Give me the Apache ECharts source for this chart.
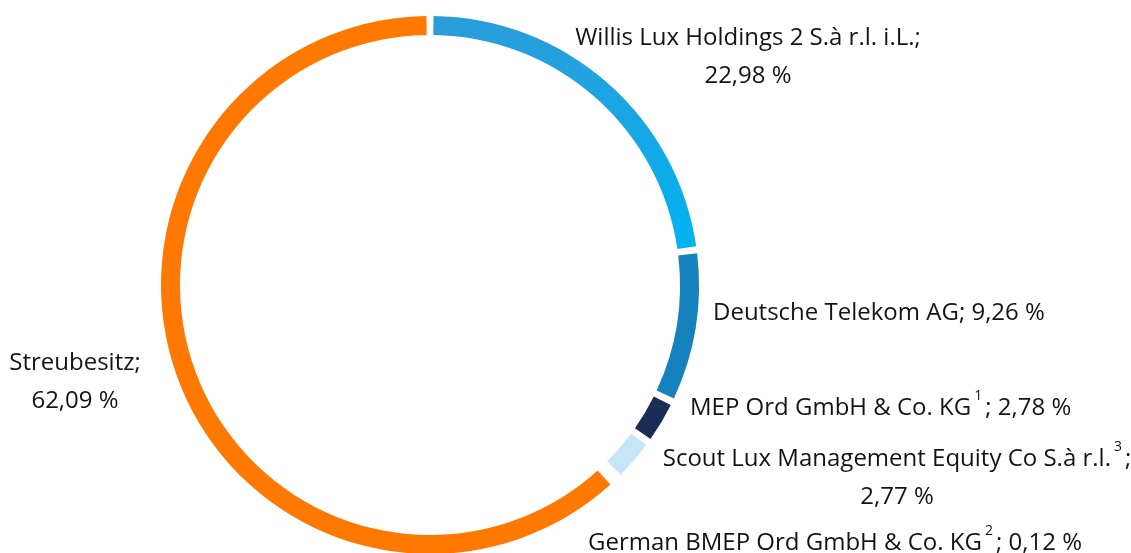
<!DOCTYPE html>
<html>
<head>
<meta charset="utf-8">
<script src="https://cdn.jsdelivr.net/npm/echarts@6/dist/echarts.min.js"></script>
<style>
  html, body { margin: 0; padding: 0; background: #fff; }
  #main { width: 1131px; height: 553px; }
</style>
</head>
<body>
<div id="main"></div>
<script>
  // Aktionärsstruktur (Anteile in %)
  var names = [
    'Willis Lux Holdings 2 S.à r.l. i.L.',
    'Deutsche Telekom AG',
    'MEP Ord GmbH & Co. KG',
    'Scout Lux Management Equity Co S.à r.l.',
    'German BMEP Ord GmbH & Co. KG',
    'Streubesitz'
  ];
  var shares = [22.98, 9.26, 2.78, 2.77, 0.12, 62.09];
  var footnotes = ['', '', '1', '3', '2', ''];
  var colors = [
    { type: 'linear', x: 0, y: 0, x2: 0, y2: 1,
      colorStops: [{ offset: 0, color: '#2b9dd9' }, { offset: 1, color: '#00b3f0' }] },
    '#1581bd', '#1b2d56', '#c6e6f8', '#c6e6f8', '#ff7800'
  ];

  // Beschriftungen: [x, y, Ausrichtung]
  var labelSpots = [
    [748, 57, 'center'],
    [713, 313, 'left'],
    [690, 408, 'left'],
    [897, 478, 'center'],
    [588, 543, 'left'],
    [75, 382, 'center']
  ];

  function fmt(v) {
    return v.toFixed(2).replace('.', ',') + ' %';
  }

  function labelText(i) {
    var n = names[i], v = fmt(shares[i]), f = footnotes[i];
    var sup = f ? '{sup|' + f + '}' : '';
    if (i === 0 || i === 5) return '{t|' + n + ';}\n{t|' + v + '}';
    if (i === 3) return '{t|' + n + '}' + sup + '{t|;}\n{t|' + v + '}';
    return '{t|' + n + '}' + sup + '{t|; ' + v + '}';
  }

  var myChart = echarts.init(document.getElementById('main'));
  var option = {
    animation: false,
    series: [{
      type: 'pie',
      center: [430, 285],
      radius: [250, 269],
      startAngle: 90,
      clockwise: true,
      padAngle: 1.5,
      avoidLabelOverlap: false,
      labelLine: { show: false },
      label: {
        show: true,
        position: 'outside',
        formatter: function (p) { return labelText(p.dataIndex); },
        rich: {
          t: { fontFamily: 'Open Sans', fontSize: 24, color: '#141414', lineHeight: 38 },
          sup: { fontFamily: 'Open Sans', fontSize: 14, color: '#141414', verticalAlign: 'top', lineHeight: 12, padding: [0, 3, 0, 3] }
        }
      },
      labelLayout: function (p) {
        var s = labelSpots[p.dataIndex];
        return { x: s[0], y: s[1], align: s[2], verticalAlign: 'middle' };
      },
      emphasis: { disabled: true },
      data: names.map(function (n, i) {
        return { name: n, value: shares[i], itemStyle: { color: colors[i] } };
      })
    }]
  };
  myChart.setOption(option);
</script>
</body>
</html>
